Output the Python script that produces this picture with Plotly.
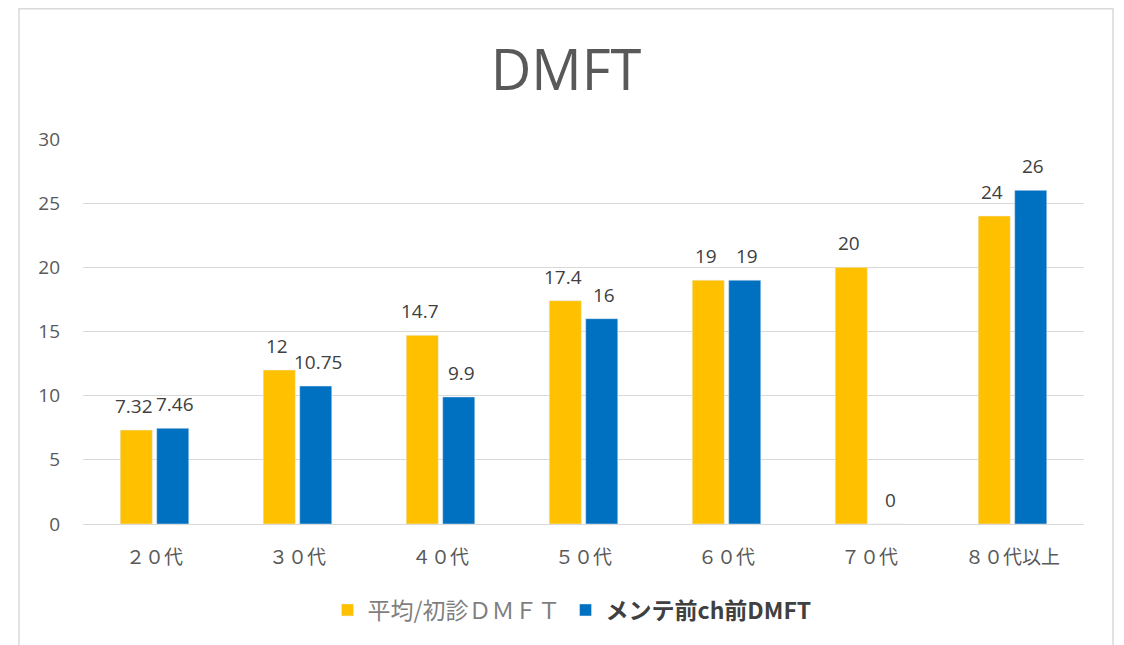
import plotly.graph_objects as go

categories = ["２０代", "３０代", "４０代", "５０代", "６０代", "７０代", "８０代以上"]
initial_dmft = [7.32, 12, 14.7, 17.4, 19, 20, 24]
maint_dmft = [7.46, 10.75, 9.9, 16, 19, 0, 26]
series_names = ["平均/初診ＤＭＦＴ", "メンテ前ch前DMFT"]
y_ticks = [0, 5, 10, 15, 20, 25, 30]

FONT = "Open Sans, Noto Sans CJK JP, sans-serif"
OFF = 8  # page offset of the figure in the browser

W, H = 1124, 645
L, R, T = 83 - OFF, 1124 - 1084 + OFF, 139 - OFF
B = H - (524 - OFF)
pw, ph = W - L - R, H - T - B


def px_x(x):
    return (x - OFF - L) / pw


def px_y(y):
    return (H - B - (y - OFF)) / ph


fig = go.Figure()
fig.add_trace(go.Bar(x=categories, y=initial_dmft, name=series_names[0],
                     marker=dict(color="#FFC000"), hoverinfo="x+y"))
fig.add_trace(go.Bar(x=categories, y=maint_dmft, name=series_names[1],
                     marker=dict(color="#0070C0"), hoverinfo="x+y"))

annotations = []
for series, shift in ((initial_dmft, -20.5), (maint_dmft, 20.5)):
    for cat, val in zip(categories, series):
        annotations.append(dict(
            x=cat, y=val, xref="x", yref="y", text=f"{val:g}", showarrow=False,
            xshift=shift, yshift=9, yanchor="bottom", xanchor="center",
            font=dict(size=19, color="#404040", family=FONT)))

fig.update_layout(
    width=W, height=H,
    margin=dict(l=L, r=R, t=T, b=B),
    paper_bgcolor="white", plot_bgcolor="white",
    barmode="group", bargap=0.49, bargroupgap=0.12,
    font=dict(family=FONT, color="#595959"),
    title=dict(text="DMFT", x=px_x(566), xanchor="center", y=1 - (70 - OFF) / H,
               yanchor="middle", yref="container", xref="paper",
               font=dict(size=56, color="#595959", family="Open Sans, sans-serif")),
    xaxis=dict(showgrid=False, showline=False, ticks="",
               tickfont=dict(size=19, color="#595959", family="Noto Sans CJK JP, sans-serif"),
               ticklabelstandoff=20),
    yaxis=dict(range=[0, 30], tickvals=y_ticks, showgrid=True, gridcolor="#D9D9D9",
               gridwidth=1.3, zeroline=True, zerolinecolor="#D9D9D9", zerolinewidth=1.3,
               tickfont=dict(size=19, color="#595959"), ticklabelstandoff=22, showline=False),
    legend=dict(orientation="h", x=px_x(572), xanchor="center", y=px_y(610), yanchor="middle",
                font=dict(size=23, color="#595959", family="Noto Sans CJK JP, sans-serif"),
                traceorder="normal", itemwidth=30),
    annotations=annotations,
    shapes=[dict(type="rect", xref="paper", yref="paper",
                 x0=px_x(19), x1=px_x(1113), y0=px_y(700), y1=px_y(8.8),
                 line=dict(color="#D9D9D9", width=1.5), fillcolor="rgba(0,0,0,0)", layer="below")],
)

fig.data[0].name = f"<span style='color:#7F7F7F'>{series_names[0]}</span>"
fig.data[1].name = f"<span style='color:#404040'><b>{series_names[1]}</b></span>"

fig.write_html("out.html")
